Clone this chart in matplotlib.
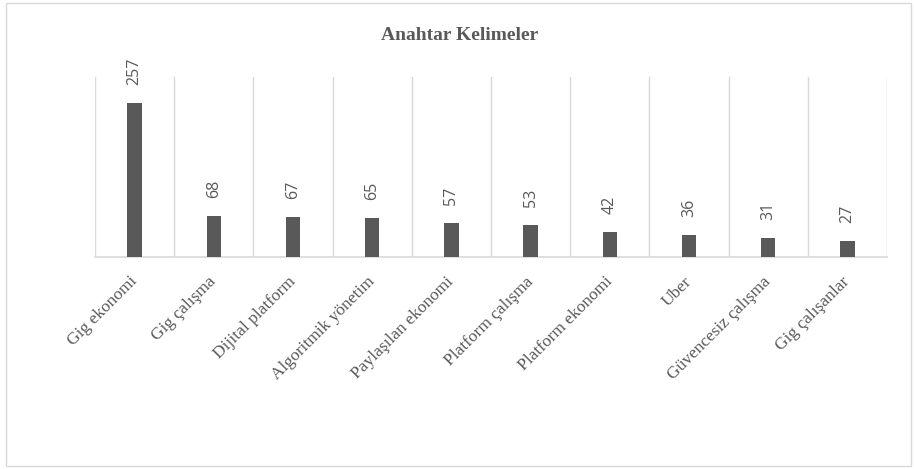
"""
Anahtar Kelimeler - keyword frequency bar chart (Excel style).
Produces: out.png
"""
import numpy as np
import matplotlib
matplotlib.use('Agg')
import matplotlib.pyplot as plt
from matplotlib.patches import Rectangle

keywords = ["Gig ekonomi", "Gig çalışma", "Dijital platform", "Algoritmik yönetim",
            "Paylaşılan ekonomi", "Platform çalışma", "Platform ekonomi", "Uber",
            "Güvencesiz çalışma", "Gig çalışanlar"]
counts = [257, 68, 67, 65, 57, 53, 42, 36, 31, 27]

GRAY = '#595959'
GRID = '#d9d9d9'

fig = plt.figure(figsize=(9.14, 4.69), dpi=100, facecolor='white')
ax = fig.add_axes([95 / 914, 1 - 257 / 469, 792 / 914, 180 / 469])

x = np.arange(len(keywords))
ax.bar(x, counts, width=0.18, color=GRAY, zorder=3)

for xi, v in zip(x, counts):
    ax.annotate(str(v), (xi, v), xytext=(0, 13), textcoords='offset points',
                rotation=90, ha='center', va='bottom', fontsize=11.5,
                color=GRAY, family='Open Sans')

ax.set_xlim(-0.5, len(keywords) - 0.5)
ax.set_ylim(0, 300)
for b in np.arange(-0.5, len(keywords), 1.0):
    ax.axvline(b, color=GRID, linewidth=1, zorder=1)

ax.set_yticks([])
ax.set_xticks(x)
ax.set_xticklabels(keywords, rotation=45, ha='right', va='center',
                   rotation_mode='anchor', fontsize=12.5, color=GRAY,
                   family='Liberation Serif')
ax.tick_params(axis='x', length=0, pad=16)
for s in ['top', 'left', 'right']:
    ax.spines[s].set_visible(False)
ax.spines['bottom'].set_color(GRID)
ax.spines['bottom'].set_linewidth(1.2)

fig.text(0.503, 1 - 35 / 469, 'Anahtar Kelimeler', ha='center', va='center',
         fontsize=14, fontweight='bold', color=GRAY, family='Liberation Serif')

fig.patches.append(Rectangle((6 / 914, 3 / 469), 905 / 914, 463 / 469,
                             transform=fig.transFigure, fill=False,
                             edgecolor=GRID, linewidth=1))

plt.savefig('out.png', dpi=100, facecolor='white')
